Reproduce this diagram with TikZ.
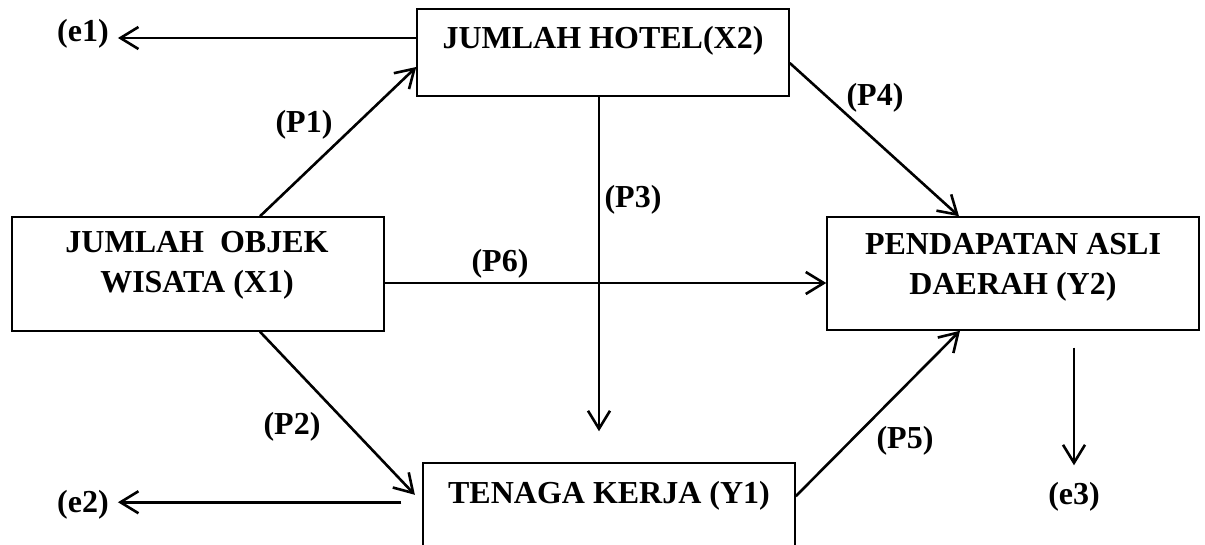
\documentclass[tikz,border=0pt]{standalone}
\usepackage{fontspec}
\setmainfont{Liberation Serif}
\usetikzlibrary{arrows.meta}
\begin{document}
\begin{tikzpicture}[x=1pt,y=-1pt,
  box/.style={draw, line width=1.5pt, inner sep=0pt, minimum width=372pt},
  txt/.style={font=\fontsize{32}{40}\selectfont\bfseries, align=center, inner sep=0pt},
  arr/.style={line width=2.6pt, -{Straight Barb[length=18pt,width=22pt,line width=2.6pt]}},
]
\useasboundingbox (0,0) rectangle (1205,545);
\clip (0,0) rectangle (1205,545);
% boxes
\node[box, minimum height=114pt] (x1) at (198,274) {};
\node[box, minimum height=87pt] (x2) at (603,52.5) {};
\node[box, minimum height=113pt] (y2) at (1013,273.5) {};
\node[box, minimum height=160pt] (y1) at (609,543) {};
% box texts
\node[txt] (x1t) at (197,265.5) {JUMLAH\ \ OBJEK\\WISATA (X1)};
\node[txt] (x2t) at (603,41) {JUMLAH HOTEL(X2)};
\node[txt] (y2t) at (1013,267.5) {PENDAPATAN ASLI\\DAERAH (Y2)};
\node[txt] (y1t) at (609,495.5) {TENAGA KERJA (Y1)};
% path labels
\node[txt] (p1) at (304,125) {(P1)};
\node[txt] (p2) at (292,427) {(P2)};
\node[txt] (p3) at (633,200) {(P3)};
\node[txt] (p4) at (875,98) {(P4)};
\node[txt] (p5) at (905,441) {(P5)};
\node[txt] (p6) at (500,264) {(P6)};
\node[txt] (e1) at (83,34) {(e1)};
\node[txt] (e2) at (83,505) {(e2)};
\node[txt] (e3) at (1074,497) {(e3)};
% connectors
\draw[arr] ([xshift=62pt]x1.north) -- ([yshift=-14.5pt]x2.west);
\draw[arr, shorten >=2pt] ([xshift=62pt]x1.south) -- ([shift={(-6pt,-34pt)}]y1.north west);
\coordinate (p3s) at ([xshift=-4pt]x2.south);
\draw[arr, shorten >=31pt] (p3s) -- (p3s |- y1.north);
\draw[arr] ([yshift=-10.5pt]x2.east) -- ([xshift=-54pt]y2.north);
\draw[arr] ([yshift=-34pt]y1.north east) -- ([xshift=-53pt]y2.south);
\coordinate (p6s) at ([yshift=-9pt]x1.east);
\draw[arr] (p6s) -- (p6s -| y2.west);
\coordinate (e1s) at ([yshift=14.5pt]x2.west);
\draw[arr, shorten >=9pt] (e1s) -- (e1s -| e1.east);
\coordinate (e2s) at ([shift={(-21pt,-40pt)}]y1.north west);
\draw[arr, shorten >=9pt] (e2s) -- (e2s -| e2.east);
\draw[arr, shorten <=17pt, shorten >=17pt] ([xshift=61pt]y2.south) -- ([xshift=61pt]y2.south |- e3.north);
\end{tikzpicture}
\end{document}
